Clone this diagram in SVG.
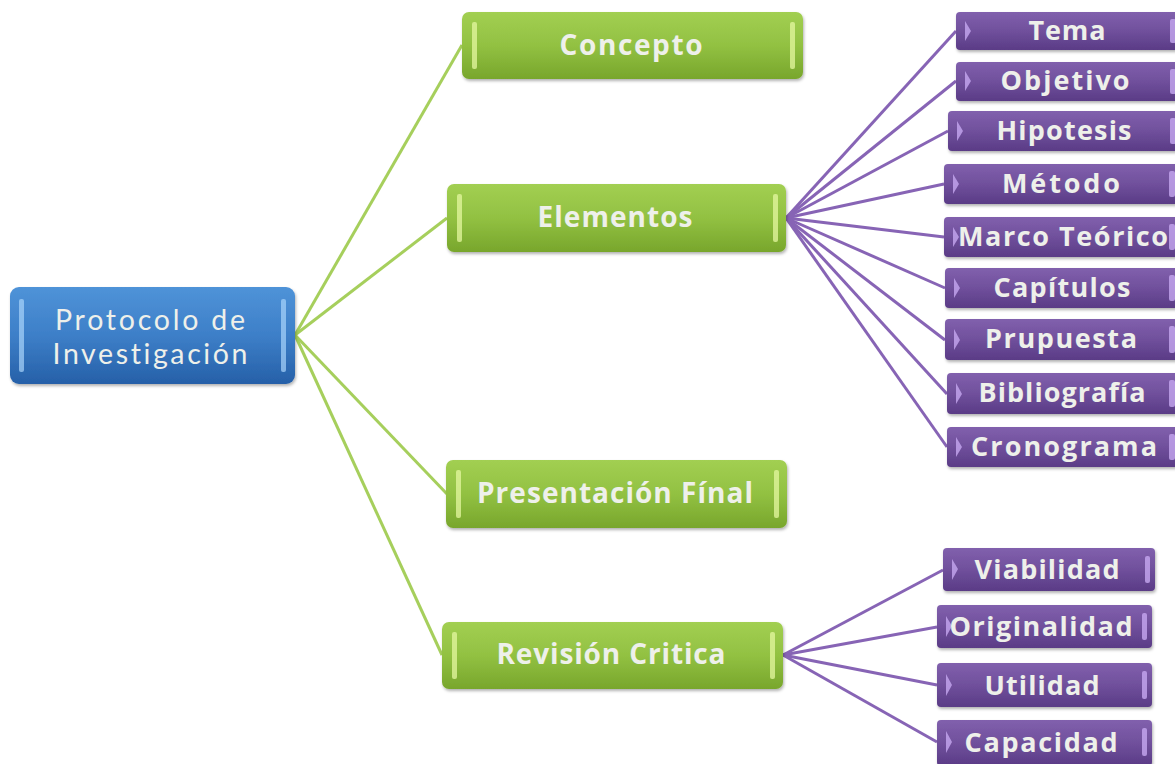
<svg xmlns="http://www.w3.org/2000/svg" width="1175" height="764" viewBox="0 0 1175 764">
<defs>
<linearGradient id="gBlue" x1="0" y1="0" x2="0" y2="1"><stop offset="0" stop-color="#4f93d8"/><stop offset="0.5" stop-color="#3d7fc8"/><stop offset="1" stop-color="#2660a8"/></linearGradient>
<linearGradient id="gGreen" x1="0" y1="0" x2="0" y2="1"><stop offset="0" stop-color="#a2cf52"/><stop offset="0.5" stop-color="#92c142"/><stop offset="1" stop-color="#78a62c"/></linearGradient>
<linearGradient id="gPurple" x1="0" y1="0" x2="0" y2="1"><stop offset="0" stop-color="#8160ad"/><stop offset="0.5" stop-color="#70509c"/><stop offset="1" stop-color="#5a3b86"/></linearGradient>
<filter id="sh" x="-5%" y="-10%" width="110%" height="130%"><feDropShadow dx="1" dy="2" stdDeviation="1.5" flood-color="#000" flood-opacity="0.3"/></filter>
</defs>
<style>
.blue{fill:url(#gBlue);filter:url(#sh)}
.green{fill:url(#gGreen);filter:url(#sh)}
.purple{fill:url(#gPurple);filter:url(#sh)}
.gstrip{fill:#e4f7a0;opacity:0.75}
.bstrip{fill:#a9d4fb;opacity:0.7}
.pstrip{fill:#c6a8f0;opacity:0.8}
.t{font-family:"Open Sans","Liberation Sans",sans-serif;font-weight:bold;fill:#eef0ea;text-anchor:middle;font-variant-ligatures:none}
.tg{font-size:28px}
.tb{font-family:Lato,"Open Sans",sans-serif;font-size:28.5px;font-weight:normal}
.tp{font-size:27px}
.cg{stroke:#a6cf5c;stroke-width:3;fill:none}
.cp{stroke:#8764b5;stroke-width:3;fill:none}
</style>
<g id="connectors">
<line class="cg" x1="295" y1="335" x2="462" y2="45"/>
<line class="cg" x1="295" y1="335" x2="447" y2="218"/>
<line class="cg" x1="295" y1="335" x2="447" y2="494"/>
<line class="cg" x1="295" y1="335" x2="442" y2="655"/>
<line class="cp" x1="786" y1="218" x2="956" y2="31"/>
<line class="cp" x1="786" y1="218" x2="956" y2="81"/>
<line class="cp" x1="786" y1="218" x2="948" y2="131"/>
<line class="cp" x1="786" y1="218" x2="944" y2="184"/>
<line class="cp" x1="786" y1="218" x2="944" y2="237"/>
<line class="cp" x1="786" y1="218" x2="945" y2="288"/>
<line class="cp" x1="786" y1="218" x2="945" y2="340"/>
<line class="cp" x1="786" y1="218" x2="947" y2="394"/>
<line class="cp" x1="786" y1="218" x2="947" y2="447"/>
<line class="cp" x1="783" y1="655" x2="943" y2="570"/>
<line class="cp" x1="783" y1="655" x2="937" y2="627"/>
<line class="cp" x1="783" y1="655" x2="937" y2="685"/>
<line class="cp" x1="783" y1="655" x2="937" y2="742"/>
</g>
<g id="node-protocolo">
<rect class="blue" x="10" y="287" width="285" height="97" rx="9"/>
<rect class="bstrip" x="19" y="299" width="5" height="73" rx="2"/>
<rect class="bstrip" x="281" y="299" width="5" height="73" rx="2"/>
<text class="t tb" x="150" y="330" textLength="190" lengthAdjust="spacing">Protocolo de</text>
<text class="t tb" x="150" y="364" textLength="195" lengthAdjust="spacing">Investigación</text>
</g>
<g id="node-concepto">
<rect class="green" x="462" y="12" width="341" height="67" rx="7"/>
<rect class="gstrip" x="472" y="22" width="5" height="47" rx="2"/>
<rect class="gstrip" x="790" y="22" width="5" height="47" rx="2"/>
<text class="t tg" x="631" y="55" textLength="143" lengthAdjust="spacing">Concepto</text>
</g>
<g id="node-elementos">
<rect class="green" x="447" y="184" width="339" height="68" rx="7"/>
<rect class="gstrip" x="457" y="194" width="5" height="48" rx="2"/>
<rect class="gstrip" x="773" y="194" width="5" height="48" rx="2"/>
<text class="t tg" x="615" y="227" textLength="155" lengthAdjust="spacing">Elementos</text>
</g>
<g id="node-presentacion">
<rect class="green" x="446" y="460" width="341" height="68" rx="7"/>
<rect class="gstrip" x="456" y="470" width="5" height="48" rx="2"/>
<rect class="gstrip" x="774" y="470" width="5" height="48" rx="2"/>
<text class="t tg" x="615" y="503" textLength="276" lengthAdjust="spacing">Presentación Fínal</text>
</g>
<g id="node-revision">
<rect class="green" x="442" y="622" width="341" height="67" rx="7"/>
<rect class="gstrip" x="452" y="632" width="5" height="47" rx="2"/>
<rect class="gstrip" x="770" y="632" width="5" height="47" rx="2"/>
<text class="t tg" x="611" y="664" textLength="229" lengthAdjust="spacing">Revisión Critica</text>
</g>
<g id="node-tema">
<rect class="purple" x="956" y="12" width="230" height="38" rx="4"/>
<path class="pstrip" d="M965 21 L971 31 L965 41 Z"/>
<rect class="pstrip" x="1170" y="19" width="6" height="24" rx="2"/>
<text class="t tp" x="1067" y="40" textLength="77" lengthAdjust="spacing">Tema</text>
</g>
<g id="node-objetivo">
<rect class="purple" x="956" y="62" width="230" height="39" rx="4"/>
<path class="pstrip" d="M965 71 L971 81 L965 91 Z"/>
<rect class="pstrip" x="1170" y="69" width="6" height="25" rx="2"/>
<text class="t tp" x="1065" y="90" textLength="129" lengthAdjust="spacing">Objetivo</text>
</g>
<g id="node-hipotesis">
<rect class="purple" x="948" y="111" width="238" height="40" rx="4"/>
<path class="pstrip" d="M957 121 L963 131 L957 141 Z"/>
<rect class="pstrip" x="1170" y="118" width="6" height="26" rx="2"/>
<text class="t tp" x="1064" y="140" textLength="135" lengthAdjust="spacing">Hipotesis</text>
</g>
<g id="node-metodo">
<rect class="purple" x="944" y="164" width="242" height="40" rx="4"/>
<path class="pstrip" d="M953 174 L959 184 L953 194 Z"/>
<rect class="pstrip" x="1169" y="171" width="6" height="26" rx="2"/>
<text class="t tp" x="1061" y="193" textLength="118" lengthAdjust="spacing">Método</text>
</g>
<g id="node-marco">
<rect class="purple" x="944" y="217" width="242" height="40" rx="4"/>
<path class="pstrip" d="M953 227 L959 237 L953 247 Z"/>
<rect class="pstrip" x="1169" y="224" width="6" height="26" rx="2"/>
<text class="t tp" x="1063" y="246" textLength="210" lengthAdjust="spacing">Marco Teórico</text>
</g>
<g id="node-capitulos">
<rect class="purple" x="945" y="268" width="241" height="40" rx="4"/>
<path class="pstrip" d="M954 278 L960 288 L954 298 Z"/>
<rect class="pstrip" x="1169" y="275" width="6" height="26" rx="2"/>
<text class="t tp" x="1062" y="297" textLength="137" lengthAdjust="spacing">Capítulos</text>
</g>
<g id="node-prupuesta">
<rect class="purple" x="945" y="319" width="241" height="41" rx="4"/>
<path class="pstrip" d="M954 329 L960 340 L954 350 Z"/>
<rect class="pstrip" x="1169" y="326" width="6" height="27" rx="2"/>
<text class="t tp" x="1061" y="348" textLength="152" lengthAdjust="spacing">Prupuesta</text>
</g>
<g id="node-bibliografia">
<rect class="purple" x="947" y="373" width="239" height="41" rx="4"/>
<path class="pstrip" d="M956 383 L962 394 L956 404 Z"/>
<rect class="pstrip" x="1169" y="380" width="6" height="27" rx="2"/>
<text class="t tp" x="1062" y="402" textLength="167" lengthAdjust="spacing">Bibliografía</text>
</g>
<g id="node-cronograma">
<rect class="purple" x="947" y="427" width="239" height="40" rx="4"/>
<path class="pstrip" d="M956 437 L962 447 L956 457 Z"/>
<rect class="pstrip" x="1169" y="434" width="6" height="26" rx="2"/>
<text class="t tp" x="1064" y="456" textLength="186" lengthAdjust="spacing">Cronograma</text>
</g>
<g id="node-viabilidad">
<rect class="purple" x="943" y="548" width="212" height="43" rx="4"/>
<path class="pstrip" d="M952 559 L958 569 L952 580 Z"/>
<rect class="pstrip" x="1145" y="556" width="5" height="27" rx="2"/>
<text class="t tp" x="1047" y="579" textLength="145" lengthAdjust="spacing">Viabilidad</text>
</g>
<g id="node-originalidad">
<rect class="purple" x="937" y="605" width="215" height="43" rx="4"/>
<path class="pstrip" d="M946 616 L952 626 L946 637 Z"/>
<rect class="pstrip" x="1142" y="613" width="5" height="27" rx="2"/>
<text class="t tp" x="1041" y="636" textLength="183" lengthAdjust="spacing">Originalidad</text>
</g>
<g id="node-utilidad">
<rect class="purple" x="937" y="663" width="215" height="44" rx="4"/>
<path class="pstrip" d="M946 674 L952 685 L946 696 Z"/>
<rect class="pstrip" x="1142" y="671" width="5" height="28" rx="2"/>
<text class="t tp" x="1042" y="695" textLength="115" lengthAdjust="spacing">Utilidad</text>
</g>
<g id="node-capacidad">
<rect class="purple" x="937" y="720" width="215" height="46" rx="4"/>
<path class="pstrip" d="M946 731 L952 742 L946 753 Z"/>
<rect class="pstrip" x="1142" y="728" width="5" height="28" rx="2"/>
<text class="t tp" x="1041" y="752" textLength="153" lengthAdjust="spacing">Capacidad</text>
</g>
</svg>
